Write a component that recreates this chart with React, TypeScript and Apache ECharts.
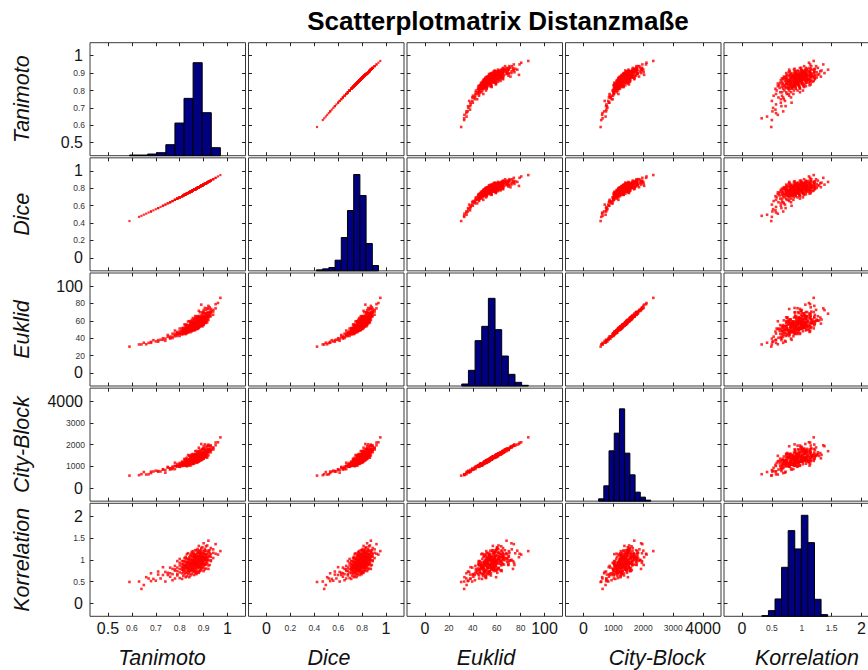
import { useEffect, useRef } from "react";
import * as echarts from "echarts";

// ---- observations (one entry per compared pair) ----
const tanimoto = [
  0.59, 0.63, 0.64, 0.65, 0.66, 0.67, 0.68, 0.68, 0.69, 0.7,
  0.71, 0.71, 0.72, 0.73, 0.73, 0.74, 0.74, 0.75, 0.75, 0.76,
  0.76, 0.76, 0.77, 0.77, 0.77, 0.78, 0.78, 0.78, 0.78, 0.79,
  0.79, 0.79, 0.79, 0.79, 0.8, 0.8, 0.8, 0.8, 0.8, 0.8,
  0.81, 0.81, 0.81, 0.81, 0.81, 0.81, 0.81, 0.82, 0.82, 0.82,
  0.82, 0.82, 0.82, 0.82, 0.82, 0.83, 0.83, 0.83, 0.83, 0.83,
  0.83, 0.83, 0.83, 0.83, 0.83, 0.84, 0.84, 0.84, 0.84, 0.84,
  0.84, 0.84, 0.84, 0.84, 0.84, 0.84, 0.85, 0.85, 0.85, 0.85,
  0.85, 0.85, 0.85, 0.85, 0.85, 0.85, 0.85, 0.85, 0.85, 0.86,
  0.86, 0.86, 0.86, 0.86, 0.86, 0.86, 0.86, 0.86, 0.86, 0.86,
  0.86, 0.86, 0.86, 0.86, 0.87, 0.87, 0.87, 0.87, 0.87, 0.87,
  0.87, 0.87, 0.87, 0.87, 0.87, 0.87, 0.87, 0.87, 0.87, 0.87,
  0.87, 0.88, 0.88, 0.88, 0.88, 0.88, 0.88, 0.88, 0.88, 0.88,
  0.88, 0.88, 0.88, 0.88, 0.88, 0.88, 0.88, 0.88, 0.88, 0.89,
  0.89, 0.89, 0.89, 0.89, 0.89, 0.89, 0.89, 0.89, 0.89, 0.89,
  0.89, 0.89, 0.89, 0.89, 0.89, 0.89, 0.9, 0.9, 0.9, 0.9,
  0.9, 0.9, 0.9, 0.9, 0.9, 0.9, 0.9, 0.9, 0.9, 0.9,
  0.91, 0.91, 0.91, 0.91, 0.91, 0.91, 0.91, 0.91, 0.91, 0.91,
  0.91, 0.92, 0.92, 0.92, 0.92, 0.92, 0.92, 0.92, 0.92, 0.93,
  0.93, 0.93, 0.93, 0.93, 0.94, 0.94, 0.94, 0.95, 0.95, 0.96,
  0.97,
  0.815, 0.815, 0.815, 0.815, 0.815, 0.815, 0.825, 0.825, 0.825, 0.825,
  0.825, 0.825, 0.825, 0.825, 0.835, 0.835, 0.835, 0.835, 0.835, 0.835,
  0.835, 0.835, 0.835, 0.845, 0.845, 0.845, 0.845, 0.845, 0.845, 0.845,
  0.845, 0.845, 0.845, 0.845, 0.855, 0.855, 0.855, 0.855, 0.855, 0.855,
  0.855, 0.855, 0.855, 0.855, 0.855, 0.855, 0.855, 0.865, 0.865, 0.865,
  0.865, 0.865, 0.865, 0.865, 0.865, 0.865, 0.865, 0.865, 0.865, 0.865,
  0.865, 0.875, 0.875, 0.875, 0.875, 0.875, 0.875, 0.875, 0.875, 0.875,
  0.875, 0.875, 0.875, 0.875, 0.875, 0.875, 0.885, 0.885, 0.885, 0.885,
  0.885, 0.885, 0.885, 0.885, 0.885, 0.885, 0.885, 0.885, 0.885, 0.885,
  0.895, 0.895, 0.895, 0.895, 0.895, 0.895, 0.895, 0.895, 0.895, 0.895,
  0.895, 0.905, 0.905, 0.905, 0.905, 0.905, 0.905, 0.905, 0.905, 0.915,
  0.915, 0.915, 0.915, 0.915, 0.915, 0.925, 0.925, 0.925, 0.925,
];

const dice = [
  0.423, 0.471, 0.483, 0.496, 0.508, 0.521, 0.533, 0.533, 0.546, 0.559,
  0.572, 0.572, 0.585, 0.599, 0.599, 0.612, 0.612, 0.626, 0.626, 0.639,
  0.639, 0.639, 0.653, 0.653, 0.653, 0.667, 0.667, 0.667, 0.667, 0.681,
  0.681, 0.681, 0.681, 0.681, 0.695, 0.695, 0.695, 0.695, 0.695, 0.695,
  0.709, 0.709, 0.709, 0.709, 0.709, 0.709, 0.709, 0.724, 0.724, 0.724,
  0.724, 0.724, 0.724, 0.724, 0.724, 0.738, 0.738, 0.738, 0.738, 0.738,
  0.738, 0.738, 0.738, 0.738, 0.738, 0.753, 0.753, 0.753, 0.753, 0.753,
  0.753, 0.753, 0.753, 0.753, 0.753, 0.753, 0.767, 0.767, 0.767, 0.767,
  0.767, 0.767, 0.767, 0.767, 0.767, 0.767, 0.767, 0.767, 0.767, 0.782,
  0.782, 0.782, 0.782, 0.782, 0.782, 0.782, 0.782, 0.782, 0.782, 0.782,
  0.782, 0.782, 0.782, 0.782, 0.797, 0.797, 0.797, 0.797, 0.797, 0.797,
  0.797, 0.797, 0.797, 0.797, 0.797, 0.797, 0.797, 0.797, 0.797, 0.797,
  0.797, 0.812, 0.812, 0.812, 0.812, 0.812, 0.812, 0.812, 0.812, 0.812,
  0.812, 0.812, 0.812, 0.812, 0.812, 0.812, 0.812, 0.812, 0.812, 0.827,
  0.827, 0.827, 0.827, 0.827, 0.827, 0.827, 0.827, 0.827, 0.827, 0.827,
  0.827, 0.827, 0.827, 0.827, 0.827, 0.827, 0.842, 0.842, 0.842, 0.842,
  0.842, 0.842, 0.842, 0.842, 0.842, 0.842, 0.842, 0.842, 0.842, 0.842,
  0.858, 0.858, 0.858, 0.858, 0.858, 0.858, 0.858, 0.858, 0.858, 0.858,
  0.858, 0.873, 0.873, 0.873, 0.873, 0.873, 0.873, 0.873, 0.873, 0.888,
  0.888, 0.888, 0.888, 0.888, 0.904, 0.904, 0.904, 0.92, 0.92, 0.936,
  0.952,
  0.716, 0.716, 0.716, 0.716, 0.716, 0.716, 0.731, 0.731, 0.731, 0.731,
  0.731, 0.731, 0.731, 0.731, 0.745, 0.745, 0.745, 0.745, 0.745, 0.745,
  0.745, 0.745, 0.745, 0.76, 0.76, 0.76, 0.76, 0.76, 0.76, 0.76,
  0.76, 0.76, 0.76, 0.76, 0.775, 0.775, 0.775, 0.775, 0.775, 0.775,
  0.775, 0.775, 0.775, 0.775, 0.775, 0.775, 0.775, 0.789, 0.789, 0.789,
  0.789, 0.789, 0.789, 0.789, 0.789, 0.789, 0.789, 0.789, 0.789, 0.789,
  0.789, 0.804, 0.804, 0.804, 0.804, 0.804, 0.804, 0.804, 0.804, 0.804,
  0.804, 0.804, 0.804, 0.804, 0.804, 0.804, 0.819, 0.819, 0.819, 0.819,
  0.819, 0.819, 0.819, 0.819, 0.819, 0.819, 0.819, 0.819, 0.819, 0.819,
  0.835, 0.835, 0.835, 0.835, 0.835, 0.835, 0.835, 0.835, 0.835, 0.835,
  0.835, 0.85, 0.85, 0.85, 0.85, 0.85, 0.85, 0.85, 0.85, 0.865,
  0.865, 0.865, 0.865, 0.865, 0.865, 0.881, 0.881, 0.881, 0.881,
];

const euklid = [
  30.3, 32.8, 32.8, 34.8, 33.0, 34.6, 35.8, 34.7, 37.7, 36.3,
  37.8, 36.0, 38.2, 40.0, 38.1, 39.5, 37.0, 41.6, 43.7, 40.5,
  39.6, 41.9, 41.8, 45.2, 40.1, 43.7, 45.3, 42.2, 48.8, 44.4,
  45.9, 42.6, 45.2, 47.2, 44.9, 46.2, 42.6, 48.0, 51.1, 45.2,
  45.1, 48.4, 46.6, 51.6, 44.3, 47.7, 49.5, 46.8, 55.8, 48.0,
  50.1, 45.6, 49.2, 51.9, 47.1, 49.9, 45.7, 52.0, 55.6, 48.7,
  47.2, 51.1, 49.0, 54.7, 46.3, 51.6, 54.0, 49.3, 59.5, 50.6,
  53.0, 47.9, 52.0, 55.0, 49.6, 51.3, 48.0, 55.2, 59.3, 51.4,
  49.7, 54.2, 51.8, 58.2, 48.7, 53.1, 55.5, 50.8, 61.0, 53.5,
  56.2, 50.5, 55.1, 58.5, 52.4, 54.3, 49.0, 57.0, 61.5, 52.8,
  50.9, 55.8, 53.2, 60.4, 51.3, 56.3, 58.9, 53.6, 65.0, 55.1,
  57.8, 52.1, 56.7, 60.1, 54.0, 55.9, 50.6, 58.6, 63.1, 54.4,
  52.5, 59.3, 56.3, 64.3, 52.6, 58.0, 61.0, 55.1, 71.5, 56.8,
  59.7, 53.4, 58.4, 62.2, 55.5, 57.6, 51.7, 60.5, 65.6, 57.7,
  55.6, 61.1, 58.1, 66.1, 54.4, 59.8, 62.8, 56.9, 78.6, 58.6,
  61.5, 55.2, 60.2, 64.0, 57.3, 59.4, 55.2, 64.7, 70.1, 59.7,
  57.5, 63.3, 60.2, 68.7, 56.1, 62.0, 65.1, 58.8, 72.3, 60.6,
  66.1, 59.3, 64.7, 68.8, 61.6, 63.8, 57.5, 67.0, 72.4, 62.0,
  59.7, 68.2, 65.1, 73.6, 61.0, 66.9, 70.0, 63.7, 77.2, 68.5,
  71.3, 65.3, 70.1, 73.7, 70.6, 72.6, 67.0, 79.1, 74.3, 80.5,
  86.4,
  49.7, 44.9, 48.6, 51.6, 46.9, 45.8, 55.5, 49.2, 44.7, 51.9,
  48.6, 50.4, 54.3, 47.4, 46.8, 51.6, 53.8, 49.6, 59.2, 47.7,
  50.9, 52.5, 47.1, 52.7, 56.4, 50.6, 49.3, 59.1, 52.0, 46.9,
  55.1, 51.3, 53.4, 57.8, 51.3, 49.2, 54.6, 57.1, 52.4, 63.2,
  50.3, 53.9, 55.7, 49.5, 54.2, 58.2, 52.1, 52.1, 63.1, 55.1,
  49.4, 58.5, 54.3, 56.6, 61.6, 52.8, 50.5, 56.2, 58.9, 54.0,
  65.4, 53.1, 57.1, 59.1, 52.3, 57.5, 61.9, 55.1, 53.5, 65.1,
  56.7, 50.7, 60.3, 55.9, 58.3, 63.5, 56.0, 53.5, 59.8, 62.7,
  57.2, 69.8, 54.7, 58.9, 61.0, 53.9, 59.3, 64.0, 56.8, 55.1,
  69.9, 60.4, 53.6, 64.5, 59.5, 62.2, 68.1, 57.7, 55.0, 61.8,
  64.9, 61.3, 74.8, 58.6, 63.0, 65.3, 57.6, 63.5, 68.5, 63.3,
  61.5, 74.5, 65.1, 58.3, 69.2, 66.9, 69.6, 75.5, 65.1,
];

const cityBlock = [
  575, 596, 641, 740, 625, 635, 758, 692, 765, 801,
  786, 756, 767, 869, 845, 831, 711, 942, 977, 853,
  906, 916, 940, 989, 872, 1022, 1015, 876, 1170, 1000,
  1025, 1001, 1020, 1111, 979, 1066, 987, 1100, 1158, 1056,
  1022, 1104, 1128, 1223, 1019, 1068, 1170, 1121, 1347, 1060,
  1212, 1038, 1129, 1296, 1081, 1196, 1005, 1249, 1400, 1122,
  1034, 1243, 1145, 1303, 1118, 1223, 1326, 1119, 1487, 1241,
  1259, 1056, 1272, 1336, 1142, 1277, 1109, 1364, 1436, 1230,
  1212, 1297, 1180, 1468, 1136, 1253, 1410, 1198, 1548, 1252,
  1383, 1238, 1325, 1392, 1285, 1313, 1123, 1457, 1537, 1288,
  1170, 1370, 1323, 1493, 1164, 1408, 1459, 1269, 1711, 1334,
  1447, 1208, 1398, 1542, 1290, 1310, 1228, 1450, 1570, 1375,
  1252, 1494, 1341, 1639, 1304, 1417, 1472, 1370, 1859, 1370,
  1543, 1280, 1466, 1528, 1360, 1463, 1217, 1456, 1703, 1421,
  1332, 1587, 1429, 1710, 1281, 1497, 1628, 1382, 2030, 1481,
  1542, 1319, 1559, 1616, 1431, 1439, 1351, 1688, 1801, 1431,
  1446, 1599, 1478, 1828, 1366, 1580, 1620, 1465, 1929, 1500,
  1633, 1503, 1643, 1750, 1603, 1610, 1437, 1680, 1896, 1602,
  1471, 1700, 1687, 1925, 1503, 1771, 1807, 1634, 2003, 1772,
  1897, 1649, 1760, 1960, 1830, 1871, 1774, 2095, 1970, 2108,
  2336,
  1140, 1056, 1137, 1183, 1097, 1098, 1338, 1152, 1041, 1197,
  1142, 1239, 1295, 1068, 1116, 1232, 1252, 1182, 1523, 1091,
  1206, 1288, 1045, 1272, 1429, 1178, 1128, 1506, 1245, 1034,
  1357, 1272, 1271, 1424, 1250, 1111, 1332, 1452, 1235, 1568,
  1227, 1305, 1313, 1179, 1364, 1423, 1244, 1275, 1552, 1348,
  1208, 1429, 1286, 1427, 1549, 1221, 1211, 1428, 1446, 1304,
  1697, 1235, 1411, 1515, 1232, 1388, 1595, 1343, 1243, 1674,
  1443, 1186, 1504, 1396, 1400, 1614, 1417, 1270, 1461, 1620,
  1410, 1760, 1344, 1513, 1512, 1301, 1503, 1580, 1402, 1388,
  1790, 1480, 1332, 1641, 1433, 1582, 1805, 1408, 1336, 1583,
  1609, 1544, 2013, 1432, 1562, 1703, 1422, 1560, 1782, 1653,
  1528, 1954, 1687, 1400, 1795, 1762, 1780, 1958, 1696,
];

const korrelation = [
  0.49, 0.5, 0.33, 0.42, 0.6, 0.57, 0.51, 0.69, 0.56, 0.52,
  0.66, 0.73, 0.57, 0.65, 0.83, 0.5, 0.72, 0.65, 0.7, 0.61,
  0.82, 0.69, 0.53, 0.79, 0.67, 0.75, 0.57, 0.86, 0.78, 0.67,
  0.97, 0.74, 0.64, 0.82, 0.93, 0.71, 0.79, 1.02, 0.58, 0.87,
  0.77, 0.84, 0.69, 0.97, 0.8, 0.56, 0.9, 0.78, 0.85, 0.67,
  0.96, 0.88, 0.74, 1.04, 0.81, 0.71, 0.92, 1.03, 0.77, 0.86,
  1.13, 0.62, 0.95, 0.82, 0.89, 0.75, 1.06, 0.87, 0.6, 0.99,
  0.81, 0.9, 0.69, 1.02, 0.93, 0.76, 1.14, 0.88, 0.76, 0.97,
  1.08, 0.82, 0.91, 1.18, 0.67, 1.0, 0.87, 0.94, 0.78, 1.11,
  0.92, 0.65, 1.04, 0.86, 0.95, 0.74, 1.07, 0.98, 0.81, 1.16,
  0.9, 0.78, 0.99, 1.1, 0.86, 0.95, 1.22, 0.71, 1.04, 0.91,
  0.98, 0.82, 1.13, 0.94, 0.67, 1.06, 0.88, 0.97, 0.76, 1.09,
  0.99, 0.86, 1.21, 0.95, 0.83, 1.04, 1.15, 0.89, 0.98, 1.32,
  0.74, 1.07, 0.94, 1.01, 0.85, 1.16, 0.97, 0.7, 1.08, 0.93,
  1.02, 0.81, 1.14, 1.05, 0.88, 1.23, 0.97, 0.85, 1.06, 1.17,
  0.91, 1.0, 1.27, 0.76, 1.09, 0.96, 1.05, 0.89, 1.2, 1.0,
  0.74, 1.13, 0.95, 1.04, 0.83, 1.16, 1.07, 0.9, 1.38, 0.99,
  0.89, 1.1, 1.21, 0.95, 1.04, 1.31, 0.8, 1.13, 1.0, 1.07,
  0.91, 1.44, 1.06, 0.79, 1.18, 0.99, 1.09, 0.87, 1.21, 1.13,
  0.99, 1.27, 1.07, 0.97, 1.16, 1.24, 1.04, 1.14, 1.36, 1.12,
  1.2,
  0.77, 0.97, 0.63, 0.9, 0.84, 0.73, 1.07, 0.7, 0.89, 0.96,
  0.82, 0.6, 1.03, 0.85, 0.8, 1.15, 0.74, 0.95, 0.86, 0.81,
  1.01, 0.67, 0.94, 0.91, 0.8, 1.12, 0.74, 0.94, 1.01, 0.87,
  0.64, 1.08, 0.9, 0.83, 1.2, 0.79, 1.0, 0.91, 0.86, 1.06,
  0.72, 0.99, 0.93, 0.82, 1.14, 0.77, 0.96, 1.05, 0.91, 0.69,
  1.12, 0.94, 0.87, 1.22, 0.81, 1.02, 0.93, 0.88, 1.08, 0.74,
  1.01, 0.98, 0.87, 1.19, 0.81, 1.01, 1.08, 0.94, 0.71, 1.15,
  0.97, 0.9, 1.25, 0.84, 1.05, 0.95, 0.93, 1.13, 0.79, 1.06,
  1.0, 0.89, 1.21, 0.84, 1.03, 1.1, 0.96, 0.74, 1.17, 0.99,
  0.94, 1.29, 0.88, 1.09, 1.0, 0.95, 1.15, 0.81, 1.08, 1.02,
  0.91, 1.25, 0.88, 1.07, 1.14, 1.0, 0.78, 1.21, 1.03, 0.99,
  1.33, 0.93, 1.14, 1.04, 1.0, 1.22, 0.88, 1.15, 1.09,
];

// ---- tick labels per measure ----
const tanimotoTicks = [0.5, 0.6, 0.7, 0.8, 0.9, 1];
const diceTicks = [0, 0.2, 0.4, 0.6, 0.8, 1];
const euklidTicks = [0, 20, 40, 60, 80, 100];
const cityBlockTicks = [0, 1000, 2000, 3000, 4000];
const korrelationTicks = [0, 0.5, 1, 1.5, 2];

// ---- histogram bars: first bin edge, bin width, bar heights ----
const histStart = [0.59, 0.418, 30.8, 507, 0.333];
const histBinWidth = [0.038, 0.0519, 5.56, 174.3, 0.11];
const tanimotoCounts = [2, 2, 5, 9, 33, 98, 172, 279, 129, 24];
const diceCounts = [3, 6, 10, 32, 100, 181, 289, 226, 82, 16];
const euklidCounts = [6, 47, 136, 179, 263, 169, 90, 35, 11, 2];
const cityBlockCounts = [7, 46, 151, 204, 277, 144, 79, 27, 12, 3];
const korrelationCounts = [2, 17, 52, 147, 257, 202, 303, 221, 51, 5];
const histTop = 339;

const measureNames = ["Tanimoto", "Dice", "Euklid", "City-Block", "Korrelation"];
const chartTitle = "Scatterplotmatrix Distanzmaße";

// ---- layout ----
const FONT = '"Liberation Sans", Arial, Helvetica, sans-serif';
const PANEL_LEFT = 90;
const COL_STEP = 158.5;
const PANEL_W = 155.5;
const PANEL_TOP = 42.7;
const ROW_STEP = 115.15;
const PANEL_H = 113;
const BOTTOM_NAME_X = [162, 329, 486, 657, 807];
const BOTTOM_NAME_Y = 658;
const LEFT_NAME_X = 22;

function buildOption() {
  const values = [tanimoto, dice, euklid, cityBlock, korrelation];
  const ticks = [tanimotoTicks, diceTicks, euklidTicks, cityBlockTicks, korrelationTicks];
  const counts = [tanimotoCounts, diceCounts, euklidCounts, cityBlockCounts, korrelationCounts];
  const ranges = ticks.map((t) => {
    const pad = 0.15 * (t[t.length - 1] - t[0]);
    return [t[0] - pad, t[t.length - 1] + pad];
  });

  const makeAxis = (
    dim: "x" | "y",
    gridIndex: number,
    position: string,
    v: number,
    showLabels: boolean
  ) => {
    const t = ticks[v];
    const first = t[0];
    const last = t[t.length - 1];
    return {
      type: "value",
      gridIndex,
      position,
      min: ranges[v][0],
      max: ranges[v][1],
      axisLine: { show: false, onZero: false },
      splitLine: { show: false },
      axisTick: {
        show: true,
        inside: true,
        length: 3.5,
        customValues: t,
        lineStyle: { color: "#222", width: 1 },
      },
      axisLabel: {
        show: showLabels,
        customValues: t,
        margin: dim === "x" ? 12 : 5,
        verticalAlign: "middle",
        formatter: (val: number) =>
          `{${val === first || val === last ? "big" : "small"}|${val}}`,
        rich: {
          big: {
            fontSize: 16,
            fontFamily: FONT,
            color: "#151515",
            padding: dim === "y" ? [0, 2, 0, 0] : 0,
          },
          small: { fontSize: 8.5, fontFamily: FONT, color: "#333" },
        },
      },
    };
  };

  const grid: any[] = [];
  const xAxis: any[] = [];
  const yAxis: any[] = [];
  const series: any[] = [];
  const graphic: any[] = [];

  for (let i = 0; i < 5; i++) {
    for (let j = 0; j < 5; j++) {
      const g = grid.length;
      const left = PANEL_LEFT + j * COL_STEP;
      const top = PANEL_TOP + i * ROW_STEP;
      grid.push({
        left,
        top,
        width: PANEL_W,
        height: PANEL_H,
        show: true,
        borderColor: "#3a3a3a",
        borderWidth: 1,
        backgroundColor: "#ffffff",
      });
      graphic.push({
        type: "rect",
        silent: true,
        z: -1,
        shape: { x: left + 1.5, y: top + 1.5, width: PANEL_W - 3, height: PANEL_H - 3 },
        style: { fill: "none", stroke: "#c8c8c8", lineWidth: 1 },
      });

      const xb = xAxis.length;
      xAxis.push(makeAxis("x", g, "bottom", j, i === 4));
      xAxis.push(makeAxis("x", g, "top", j, false));
      const yl = yAxis.length;
      yAxis.push(makeAxis("y", g, "left", i, j === 0));
      yAxis.push(makeAxis("y", g, "right", i, false));

      if (i === j) {
        yAxis.push({ type: "value", gridIndex: g, min: 0, max: histTop, show: false });
        const start = histStart[i];
        const w = histBinWidth[i];
        series.push({
          type: "custom",
          xAxisIndex: xb,
          yAxisIndex: yl + 2,
          silent: true,
          data: counts[i].map((c, b) => [start + b * w, start + (b + 1) * w, c]),
          encode: { x: [0, 1], y: 2 },
          renderItem: (_params: any, api: any) => {
            const p0 = api.coord([api.value(0), api.value(2)]);
            const p1 = api.coord([api.value(1), 0]);
            return {
              type: "rect",
              shape: { x: p0[0], y: p0[1], width: p1[0] - p0[0], height: p1[1] - p0[1] },
              style: { fill: "#000080", stroke: "#000000", lineWidth: 1 },
            };
          },
        });
      } else {
        // Tanimoto/Dice lie on one curve: draw that pair a little finer
        const onCurve = (i === 0 && j === 1) || (i === 1 && j === 0);
        series.push({
          type: "scatter",
          xAxisIndex: xb,
          yAxisIndex: yl,
          silent: true,
          symbol: "rect",
          symbolSize: onCurve ? 2.2 : 2.6,
          itemStyle: { color: "#ff0000" },
          data: values[j].map((v, k) => [v, values[i][k]]),
        });
      }
    }
  }

  graphic.push({
    type: "text",
    x: 498,
    y: 21,
    silent: true,
    style: {
      text: chartTitle,
      font: `bold 26px ${FONT}`,
      fill: "#000",
      textAlign: "center",
      textVerticalAlign: "middle",
      align: "center",
      verticalAlign: "middle",
    },
  });
  measureNames.forEach((name, k) => {
    graphic.push({
      type: "text",
      x: BOTTOM_NAME_X[k],
      y: BOTTOM_NAME_Y,
      silent: true,
      style: {
        text: name,
        font: `italic 21.5px ${FONT}`,
        fill: "#111",
        textAlign: "center",
        textVerticalAlign: "middle",
        align: "center",
        verticalAlign: "middle",
      },
    });
    graphic.push({
      type: "text",
      x: LEFT_NAME_X,
      y: PANEL_TOP + k * ROW_STEP + PANEL_H / 2,
      rotation: Math.PI / 2,
      silent: true,
      style: {
        text: name,
        font: `italic 21.5px ${FONT}`,
        fill: "#111",
        textAlign: "center",
        textVerticalAlign: "middle",
        align: "center",
        verticalAlign: "middle",
      },
    });
  });

  return {
    animation: false,
    backgroundColor: "#ffffff",
    textStyle: { fontFamily: FONT },
    grid,
    xAxis,
    yAxis,
    series,
    graphic,
  };
}

export default function App() {
  const ref = useRef<HTMLDivElement>(null);

  useEffect(() => {
    if (!ref.current) return;
    const chart = echarts.init(ref.current, undefined, { renderer: "svg" });
    chart.setOption(buildOption() as any);
    return () => chart.dispose();
  }, []);

  return (
    <div
      style={{
        position: "fixed",
        left: 0,
        top: 0,
        width: 868,
        height: 670,
        overflow: "hidden",
        background: "#fff",
      }}
    >
      <div ref={ref} style={{ width: 885, height: 670 }} />
    </div>
  );
}
